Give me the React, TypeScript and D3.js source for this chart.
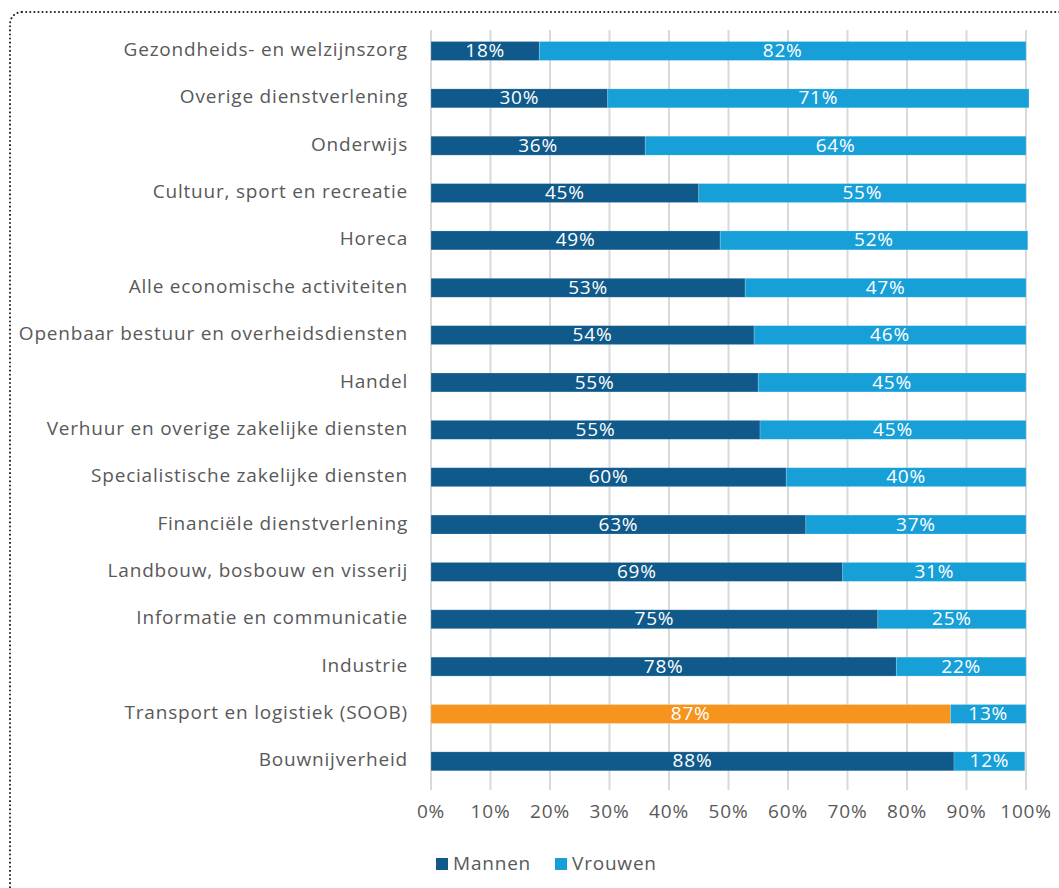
import React, { useEffect, useRef } from "react";
import * as d3 from "d3";

const categories = [
  "Gezondheids- en welzijnszorg",
  "Overige dienstverlening",
  "Onderwijs",
  "Cultuur, sport en recreatie",
  "Horeca",
  "Alle economische activiteiten",
  "Openbaar bestuur en overheidsdiensten",
  "Handel",
  "Verhuur en overige zakelijke diensten",
  "Specialistische zakelijke diensten",
  "Financiële dienstverlening",
  "Landbouw, bosbouw en visserij",
  "Informatie en communicatie",
  "Industrie",
  "Transport en logistiek (SOOB)",
  "Bouwnijverheid",
];

const mannen = [18.2, 29.7, 36.0, 45.0, 48.6, 52.8, 54.3, 55.0, 55.3, 59.7, 63.0, 69.2, 75.1, 78.2, 87.3, 87.9];
const vrouwen = [81.8, 70.8, 64.0, 55.0, 51.7, 47.2, 45.7, 45.0, 44.7, 40.3, 37.0, 30.8, 24.9, 21.8, 12.7, 11.9];
const highlight = "Transport en logistiek (SOOB)";

const ticks = [0, 10, 20, 30, 40, 50, 60, 70, 80, 90, 100];

const COLOR_M = "#0f5a8a";
const COLOR_V = "#179fd8";
const COLOR_HL = "#f7941d";
const TEXT = "#595959";
const FONT = "'Open Sans', 'Noto Sans', sans-serif";
const FS = "19px";
const LS = "0.8px";

const App: React.FC = () => {
  const svgRef = useRef<SVGSVGElement>(null);

  useEffect(() => {
    if (!svgRef.current) return;
    const svg = d3.select(svgRef.current);
    svg.selectAll("*").remove();

    const width = 1059;
    const height = 888;

    // outer dotted frame
    svg
      .append("rect")
      .attr("x", 10)
      .attr("y", 12)
      .attr("width", width + 20)
      .attr("height", height + 20)
      .attr("rx", 12)
      .attr("fill", "none")
      .attr("stroke", "#222")
      .attr("stroke-width", 2)
      .attr("stroke-dasharray", "0.1 4")
      .attr("stroke-linecap", "round");

    const x = d3.scaleLinear().domain([0, 100]).range([431, 1026]);
    const y = d3
      .scaleBand<string>()
      .domain(categories)
      .range([27.3, 785])
      .paddingInner(0.6)
      .paddingOuter(0.3);

    // gridlines
    svg
      .append("g")
      .selectAll("line")
      .data(ticks)
      .join("line")
      .attr("x1", (d) => x(d))
      .attr("x2", (d) => x(d))
      .attr("y1", 30)
      .attr("y2", 790)
      .attr("stroke", "#d9d9d9")
      .attr("stroke-width", 2);

    // tick labels
    svg
      .append("g")
      .selectAll("text")
      .data(ticks)
      .join("text")
      .attr("x", (d) => x(d))
      .attr("y", 813)
      .attr("text-anchor", "middle")
      .attr("dominant-baseline", "middle")
      .style("font-family", FONT)
      .style("font-size", FS)
      .style("letter-spacing", LS)
      .style("fill", TEXT)
      .text((d) => `${d}%`);

    // category labels
    svg
      .append("g")
      .selectAll("text")
      .data(categories)
      .join("text")
      .attr("x", 408)
      .attr("y", (d) => (y(d) || 0) + y.bandwidth() / 2)
      .attr("text-anchor", "end")
      .attr("dominant-baseline", "middle")
      .style("font-family", FONT)
      .style("font-size", FS)
      .style("letter-spacing", LS)
      .style("fill", TEXT)
      .text((d) => d);

    const bars = svg.append("g");
    categories.forEach((cat, i) => {
      const by = y(cat) || 0;
      const bh = y.bandwidth();
      const m = mannen[i];
      const v = vrouwen[i];
      const mColor = cat === highlight ? COLOR_HL : COLOR_M;

      bars
        .append("rect")
        .attr("x", x(0))
        .attr("y", by)
        .attr("width", x(m) - x(0))
        .attr("height", bh)
        .attr("fill", mColor)
        .attr("stroke", "#fff")
        .attr("stroke-opacity", 0.25)
        .attr("stroke-width", 0.75);

      bars
        .append("rect")
        .attr("x", x(m))
        .attr("y", by)
        .attr("width", x(m + v) - x(m))
        .attr("height", bh)
        .attr("fill", COLOR_V)
        .attr("stroke", "#fff")
        .attr("stroke-opacity", 0.25)
        .attr("stroke-width", 0.75);

      bars
        .append("text")
        .attr("x", (x(0) + x(m)) / 2)
        .attr("y", by + bh / 2 + 1)
        .attr("text-anchor", "middle")
        .attr("dominant-baseline", "middle")
        .style("font-family", FONT)
        .style("font-size", FS)
        .style("letter-spacing", LS)
        .style("fill", "#fff")
        .text(`${Math.round(m)}%`);

      bars
        .append("text")
        .attr("x", (x(m) + x(m + v)) / 2)
        .attr("y", by + bh / 2 + 1)
        .attr("text-anchor", "middle")
        .attr("dominant-baseline", "middle")
        .style("font-family", FONT)
        .style("font-size", FS)
        .style("letter-spacing", LS)
        .style("fill", "#fff")
        .text(`${Math.round(v)}%`);
    });

    // legend
    const legendItems = [
      { label: "Mannen", color: COLOR_M, x: 436 },
      { label: "Vrouwen", color: COLOR_V, x: 555 },
    ];
    const legend = svg.append("g");
    legendItems.forEach((item) => {
      legend
        .append("rect")
        .attr("x", item.x)
        .attr("y", 858)
        .attr("width", 12)
        .attr("height", 12)
        .attr("fill", item.color);
      legend
        .append("text")
        .attr("x", item.x + 17)
        .attr("y", 865)
        .attr("dominant-baseline", "middle")
        .style("font-family", FONT)
        .style("font-size", FS)
        .style("letter-spacing", LS)
        .style("fill", TEXT)
        .text(item.label);
    });
  }, []);

  return (
    <div style={{ position: "absolute", left: 0, top: 0, width: 1059, height: 888, overflow: "hidden", background: "#fff" }}>
      <svg ref={svgRef} width={1059} height={888} style={{ display: "block" }} />
    </div>
  );
};

export default App;
